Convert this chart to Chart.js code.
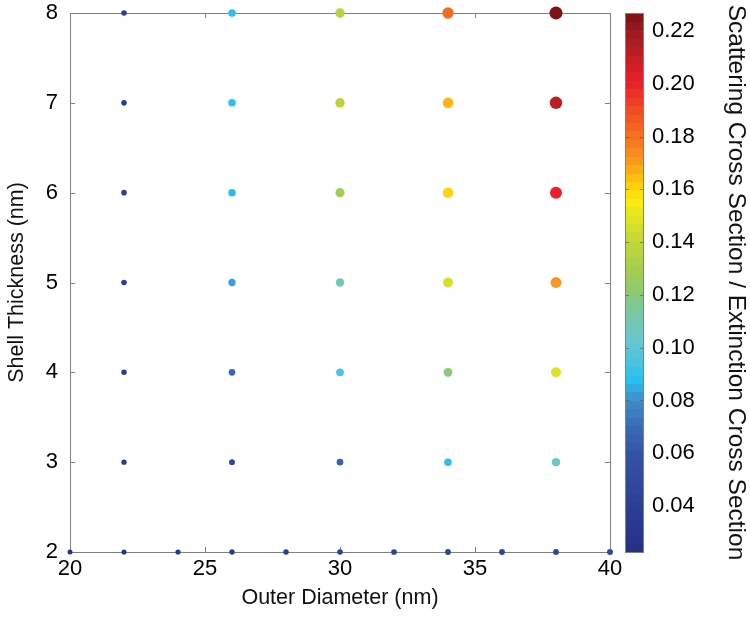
<!DOCTYPE html>
<html>
<head>
<meta charset="utf-8">
<script src="https://cdn.jsdelivr.net/npm/chart.js@4/dist/chart.umd.min.js"></script>
<style>
  html, body { margin: 0; padding: 0; background: #fff; }
</style>
</head>
<body>
<canvas id="scatter-chart" width="750" height="618"></canvas>
<script>
// ------------------------------------------------------
// @Data
// ------------------------------------------------------

// diameters used for rows 3..8 nm
const diameters = [22, 26, 30, 34, 38];
// diameters used for the 2 nm row
const baseDiameters = [20, 22, 24, 26, 28, 30, 32, 34, 36, 38, 40];

// scattering / extinction ratio per shell thickness
const shell2 = [0.025, 0.028, 0.030, 0.033, 0.036, 0.040, 0.042, 0.044, 0.046, 0.048, 0.050];
const shell3 = [0.032, 0.046, 0.066, 0.089, 0.105];
const shell4 = [0.036, 0.068, 0.095, 0.120, 0.148];
const shell5 = [0.040, 0.083, 0.110, 0.146, 0.172];
const shell6 = [0.040, 0.087, 0.128, 0.161, 0.200];
const shell7 = [0.040, 0.088, 0.137, 0.166, 0.212];
const shell8 = [0.040, 0.089, 0.137, 0.182, 0.226];

const xTicks = [20, 25, 30, 35, 40];
const yTicks = [2, 3, 4, 5, 6, 7, 8];
const cbTicks = [0.04, 0.06, 0.08, 0.10, 0.12, 0.14, 0.16, 0.18, 0.20, 0.22];
const cbMin = 0.0226;
const cbMax = 0.2268;

// colour map stops (value, colour)
const cmapStops = [
    [0.0226, '#262f86'], [0.04, '#2c3f98'], [0.06, '#3553a5'], [0.07, '#3a6ab5'],
    [0.08, '#3f8cca'], [0.088, '#29c0f0'], [0.10, '#63c5d6'], [0.11, '#72c8b6'],
    [0.12, '#8bc87a'], [0.13, '#a6ce4e'], [0.14, '#c1d63a'], [0.15, '#e3e51e'],
    [0.155, '#f7ec13'], [0.16, '#fed80b'], [0.165, '#fdbb12'], [0.17, '#f8a01d'],
    [0.18, '#f47121'], [0.19, '#f04e24'], [0.20, '#ed1f27'], [0.21, '#c21e25'],
    [0.22, '#9b1b1f'], [0.2268, '#7a1214']
];

function hexToRgb(h) {
    return [parseInt(h.substr(1, 2), 16), parseInt(h.substr(3, 2), 16), parseInt(h.substr(5, 2), 16)];
}

function colorFor(v) {
    if (v <= cmapStops[0][0]) return cmapStops[0][1];
    for (let i = 1; i < cmapStops.length; i++) {
        if (v <= cmapStops[i][0]) {
            let a = cmapStops[i - 1], b = cmapStops[i];
            let t = (v - a[0]) / (b[0] - a[0]);
            let ca = hexToRgb(a[1]), cb = hexToRgb(b[1]);
            let c = ca.map((x, k) => Math.round(x + (cb[k] - x) * t));
            return 'rgb(' + c.join(',') + ')';
        }
    }
    return cmapStops[cmapStops.length - 1][1];
}

// build points
let points = [];
baseDiameters.forEach((d, i) => points.push({ x: d, y: 2, v: shell2[i] }));
[[3, shell3], [4, shell4], [5, shell5], [6, shell6], [7, shell7], [8, shell8]].forEach(row => {
    diameters.forEach((d, i) => points.push({ x: d, y: row[0], v: row[1][i] }));
});

// ------------------------------------------------------
// @Frame + colorbar plugin
// ------------------------------------------------------

const framePlugin = {
    id: 'frame',
    beforeDatasetsDraw(chart) {
        const ctx = chart.ctx;
        const a = chart.chartArea;
        const xs = chart.scales.x, ys = chart.scales.y, cs = chart.scales.cb;
        ctx.save();
        ctx.strokeStyle = '#808080';
        ctx.lineWidth = 1;
        ctx.strokeRect(a.left + 0.5, a.top + 0.5, a.right - a.left, a.bottom - a.top);
        ctx.beginPath();
        xTicks.forEach(t => {
            let px = Math.round(xs.getPixelForValue(t)) + 0.5;
            ctx.moveTo(px, a.bottom); ctx.lineTo(px, a.bottom - 5);
            ctx.moveTo(px, a.top); ctx.lineTo(px, a.top + 5);
        });
        yTicks.forEach(t => {
            let py = Math.round(ys.getPixelForValue(t)) + 0.5;
            ctx.moveTo(a.left, py); ctx.lineTo(a.left + 5, py);
            ctx.moveTo(a.right, py); ctx.lineTo(a.right - 5, py);
        });
        ctx.stroke();

        // colorbar
        const bx = 625, bw = 19;
        const top = cs.getPixelForValue(cbMax), bottom = cs.getPixelForValue(cbMin);
        const n = 64;
        for (let i = 0; i < n; i++) {
            let v0 = cbMin + (cbMax - cbMin) * i / n;
            let v1 = cbMin + (cbMax - cbMin) * (i + 1) / n;
            let y0 = cs.getPixelForValue(v0), y1 = cs.getPixelForValue(v1);
            ctx.fillStyle = colorFor((v0 + v1) / 2);
            ctx.fillRect(bx, Math.floor(y1), bw, Math.ceil(y0) - Math.floor(y1));
        }
        ctx.strokeStyle = 'rgba(80,80,80,0.6)';
        ctx.beginPath();
        cbTicks.forEach(t => {
            let py = Math.round(cs.getPixelForValue(t)) + 0.5;
            ctx.moveTo(bx, py); ctx.lineTo(bx + 4, py);
            ctx.moveTo(bx + bw, py); ctx.lineTo(bx + bw - 4, py);
        });
        ctx.stroke();
        ctx.strokeStyle = '#808080';
        ctx.strokeRect(bx + 0.5, top + 0.5, bw - 1, bottom - top);
        ctx.restore();
    }
};

// ------------------------------------------------------
// @Scatter Chart
// ------------------------------------------------------

let chartBox = document.getElementById('scatter-chart');
let fontFamily = '"Liberation Sans", Arial, Helvetica, sans-serif';
let tickFont = { family: fontFamily, size: 22, lineHeight: 1 };
// invisible grid, only used to push tick labels away from the axis
let spacer = len => ({ display: true, drawOnChartArea: false, color: 'rgba(0,0,0,0)', tickLength: len });

new Chart(chartBox.getContext('2d'), {
    type: 'scatter',
    data: {
        datasets: [{
            label: 'Ratio',
            data: points,
            backgroundColor: points.map(p => colorFor(p.v)),
            borderWidth: 0,
            pointRadius: points.map(p => 2 + 20 * p.v),
            pointHoverRadius: points.map(p => 2 + 20 * p.v),
            clip: false
        }]
    },
    options: {
        responsive: false,
        animation: false,
        devicePixelRatio: 1,
        layout: { padding: { top: 13, left: 0, right: 0, bottom: 0 } },
        plugins: {
            legend: { display: false },
            tooltip: { enabled: false }
        },
        scales: {
            x: {
                type: 'linear',
                min: 20, max: 40,
                grid: spacer(6),
                border: { display: false },
                afterBuildTicks: s => { s.ticks = xTicks.map(v => ({ value: v })); },
                afterFit: s => { s.height = 66; },
                ticks: { color: '#000', padding: 0, maxRotation: 0, font: tickFont },
                title: {
                    display: true, text: 'Outer Diameter (nm)', color: '#111',
                    font: { family: fontFamily, size: 21.5 }, padding: { top: 0, bottom: 7 }
                }
            },
            y: {
                type: 'linear',
                position: 'left',
                min: 2, max: 8,
                grid: spacer(12),
                border: { display: false },
                afterBuildTicks: s => { s.ticks = yTicks.map(v => ({ value: v })); },
                afterFit: s => { s.width = 70; },
                ticks: { color: '#000', padding: 0, font: tickFont },
                title: {
                    display: true, text: 'Shell Thickness (nm)', color: '#111',
                    font: { family: fontFamily, size: 21.5 }, padding: { top: 4, bottom: 0 }
                }
            },
            cb: {
                type: 'linear',
                position: 'right',
                min: cbMin, max: cbMax,
                grid: spacer(42),
                border: { display: false },
                afterBuildTicks: s => { s.ticks = cbTicks.map(v => ({ value: v })); },
                afterFit: s => { s.width = 140; },
                ticks: {
                    color: '#000', padding: 0, font: tickFont,
                    callback: v => v.toFixed(2)
                },
                title: {
                    display: true, text: 'Scattering Cross Section / Extinction Cross Section', color: '#111',
                    font: { family: fontFamily, size: 24.5 }, padding: { top: 0, bottom: 0 }
                }
            }
        }
    },
    plugins: [framePlugin]
});
</script>
</body>
</html>
